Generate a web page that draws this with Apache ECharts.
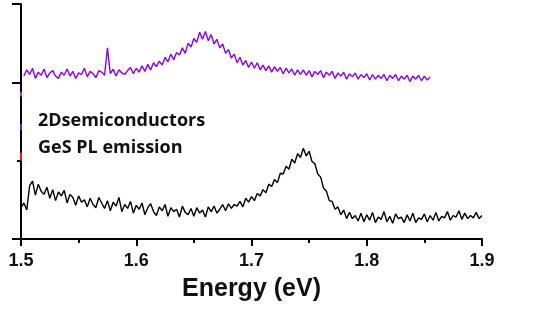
<!DOCTYPE html>
<html><head><meta charset="utf-8">
<script src="https://cdn.jsdelivr.net/npm/echarts@6/dist/echarts.min.js"></script>
<style>html,body{margin:0;padding:0;background:#fff}#c{width:554px;height:327px}</style>
</head><body><div id="c"></div>
<script>
// Energy grids (eV): start and step of each sampled spectrum
const blackStart = 1.5, blackStep = 0.0025;
const violetStart = 1.5025, violetStep = 0.0025;
// PL intensity (offset, arb. units)
const blackValues = [
0.40,0.46,0.37,0.68,0.74,0.56,0.70,0.61,0.57,0.66,0.52,0.63,0.49,0.60,0.55,0.62,0.46,0.57,0.53,0.43,
0.55,0.47,0.50,0.41,0.52,0.44,0.40,0.53,0.46,0.39,0.49,0.36,0.47,0.42,0.53,0.35,0.44,0.39,0.48,0.33,
0.43,0.38,0.46,0.31,0.40,0.45,0.35,0.30,0.41,0.36,0.44,0.29,0.40,0.35,0.38,0.28,0.42,0.34,0.31,0.39,
0.29,0.40,0.33,0.37,0.28,0.41,0.35,0.42,0.33,0.38,0.44,0.36,0.45,0.39,0.44,0.42,0.48,0.41,0.52,0.47,
0.54,0.49,0.58,0.55,0.63,0.59,0.70,0.67,0.76,0.72,0.84,0.83,0.93,0.89,1.02,0.97,1.09,1.04,1.16,1.06,
1.12,0.99,0.96,0.83,0.79,0.65,0.61,0.49,0.48,0.38,0.41,0.31,0.37,0.26,0.34,0.26,0.30,0.23,0.33,0.22,
0.31,0.24,0.34,0.21,0.28,0.25,0.35,0.22,0.29,0.20,0.32,0.26,0.28,0.21,0.31,0.23,0.33,0.21,0.27,0.25,
0.32,0.22,0.30,0.24,0.34,0.23,0.29,0.27,0.35,0.24,0.30,0.28,0.36,0.25,0.33,0.26,0.30,0.27,0.34,0.26,
0.30];
const violetValues = [
2.08,2.16,2.10,2.18,2.05,2.13,2.09,2.17,2.06,2.12,2.15,2.08,2.05,2.13,2.09,2.17,2.08,2.14,2.05,2.12,
2.10,2.18,2.07,2.14,2.11,2.06,2.15,2.13,2.09,2.44,2.11,2.17,2.08,2.16,2.12,2.10,2.15,2.19,2.11,2.18,
2.13,2.21,2.14,2.23,2.16,2.25,2.20,2.27,2.22,2.32,2.26,2.36,2.29,2.38,2.35,2.44,2.37,2.50,2.45,2.56,
2.51,2.64,2.55,2.65,2.53,2.61,2.49,2.55,2.44,2.49,2.37,2.42,2.31,2.36,2.25,2.32,2.22,2.28,2.19,2.26,
2.18,2.25,2.16,2.22,2.15,2.21,2.13,2.20,2.14,2.19,2.11,2.18,2.12,2.17,2.09,2.16,2.10,2.16,2.09,2.15,
2.07,2.14,2.10,2.15,2.06,2.13,2.09,2.14,2.05,2.12,2.08,2.13,2.04,2.11,2.07,2.12,2.04,2.10,2.06,2.11,
2.03,2.10,2.04,2.09,2.05,2.10,2.02,2.09,2.05,2.10,2.02,2.08,2.04,2.09,2.01,2.08,2.04,2.09,2.02,2.08,
2.03,2.07];
// small coloured legend marks on the y axis: [from, to]
const markMagenta = [1.82, 1.88];
const markBlue = [1.39, 1.47];
const markRed = [1.00, 1.10];
const xTicks = [1.5, 1.6, 1.7, 1.8, 1.9];
const labelLines = ['2Dsemiconductors', 'GeS PL emission'];
const xName = 'Energy (eV)';

const pairs = (start, step, vals) => vals.map((v, i) => [+(start + step * i).toFixed(4), v]);
const seg = (r) => [[1.5, r[0]], [1.5, r[1]]];

const chart = echarts.init(document.getElementById('c'), null, {renderer: 'canvas'});
chart.setOption({
  animation: false,
  backgroundColor: '#fff',
  grid: {left: 21, right: 72, top: 4, bottom: 88},
  title: {
    text: labelLines.join('\n'), left: 33, top: 102,
    textStyle: {fontFamily: 'Open Sans', fontWeight: 'bold', fontSize: 18, lineHeight: 27, color: '#111'}
  },
  xAxis: {
    type: 'value', min: 1.5, max: 1.9, interval: 0.1,
    name: xName, nameLocation: 'middle', nameGap: 38,
    nameTextStyle: {fontFamily: 'Liberation Sans', fontWeight: 'bold', fontSize: 25, color: '#111'},
    axisLine: {onZero: false, lineStyle: {color: '#000', width: 2}},
    axisTick: {show: true, length: 7, lineStyle: {color: '#000', width: 2}},
    minorTick: {show: true, splitNumber: 2, length: 4, lineStyle: {color: '#000', width: 2}},
    axisLabel: {fontFamily: 'Liberation Sans', fontWeight: 'bold', fontSize: 18, color: '#111', margin: 13,
      formatter: v => xTicks.some(t => Math.abs(t - v) < 1e-6) ? v.toFixed(1) : ''},
    splitLine: {show: false}, minorSplitLine: {show: false}
  },
  yAxis: [{
    type: 'value', min: 0, max: 3, interval: 1, position: 'left',
    axisLine: {show: true, onZero: false, lineStyle: {color: '#000', width: 2}},
    axisTick: {show: true, length: 9, customValues: [0, 2, 3], lineStyle: {color: '#000', width: 2}},
    axisLabel: {show: false}, splitLine: {show: false}
  }, {
    type: 'value', min: 0, max: 3, interval: 1, position: 'left', offset: 0,
    axisLine: {show: false},
    axisTick: {show: true, length: 4, customValues: [1], lineStyle: {color: '#000', width: 2}},
    axisLabel: {show: false}, splitLine: {show: false}
  }],
  series: [
    {type: 'line', data: pairs(blackStart, blackStep, blackValues), showSymbol: false,
     lineStyle: {color: '#000', width: 1.4}, z: 3},
    {type: 'line', data: pairs(violetStart, violetStep, violetValues), showSymbol: false,
     lineStyle: {color: '#8a00ff', width: 1.4}, z: 3},
    {type: 'line', data: seg(markMagenta), showSymbol: false, clip: false, lineStyle: {color: '#d11ad1', width: 2}, z: 5},
    {type: 'line', data: seg(markBlue), showSymbol: false, clip: false, lineStyle: {color: '#3030ff', width: 2}, z: 5},
    {type: 'line', data: seg(markRed), showSymbol: false, clip: false, lineStyle: {color: '#ff1010', width: 2}, z: 5}
  ]
});
</script></body></html>
